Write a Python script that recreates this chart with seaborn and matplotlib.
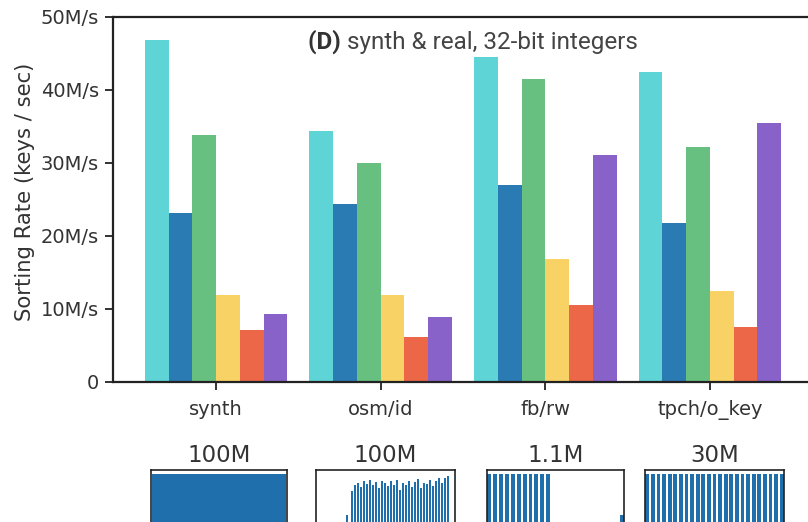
import matplotlib
matplotlib.use("Agg")
import matplotlib.pyplot as plt
import numpy as np
import pandas as pd
import seaborn as sns

# Sorting throughput (million keys / second) per dataset
datasets = ["synth", "osm/id", "fb/rw", "tpch/o_key"]
sorters = ["sorter 1", "sorter 2", "sorter 3", "sorter 4", "sorter 5", "sorter 6"]
rate_s1 = [46.8, 34.4, 44.5, 42.4]
rate_s2 = [23.1, 24.3, 27.0, 21.8]
rate_s3 = [33.8, 30.0, 41.5, 32.2]
rate_s4 = [11.9, 11.9, 16.8, 12.4]
rate_s5 = [7.0, 6.1, 10.5, 7.5]
rate_s6 = [9.2, 8.9, 31.1, 35.5]
palette = ["#5fd4d6", "#2a7ab3", "#67c080", "#f8d264", "#eb6748", "#8861c9"]

y_ticks = [0, 10, 20, 30, 40, 50]
y_tick_labels = ["0", "10M/s", "20M/s", "30M/s", "40M/s", "50M/s"]

# Key counts and key-distribution histograms shown under each dataset
key_counts = ["100M", "100M", "1.1M", "30M"]
hist_synth = [0.95, 0.95, 0.95, 0.95, 0.95, 0.95, 0.95, 0.95, 0.95, 0.95,
              0.95, 0.95, 0.95, 0.95, 0.95, 0.95, 0.95, 0.95, 0.95, 0.95,
              0.95, 0.95, 0.95, 0.95, 0.95, 0.95, 0.95, 0.95, 0.95, 0.95]
hist_osm = [0, 0, 0, 0, 0, 0, 0, 0, 0, 0, 0, 0, 0, 0, 0, 0, 0, 0, 0, 0,
            0.36, 0, 0, 0.70, 0, 0.78, 0, 0.82, 0, 0.76, 0, 0.84, 0, 0.80, 0,
            0.86, 0, 0.78, 0, 0.83, 0, 0.74, 0, 0.85, 0, 0.81, 0, 0.77, 0,
            0.84, 0, 0.79, 0, 0.86, 0, 0.72, 0, 0.82, 0, 0.78, 0, 0.85, 0,
            0.76, 0, 0.83, 0, 0.87, 0, 0.75, 0, 0.82, 0, 0.80, 0, 0.86, 0,
            0.77, 0, 0.84, 0, 0.88, 0, 0.81, 0, 0.89, 0, 0.91, 0, 0, 0, 0]
hist_fb = [0.95, 0, 0.95, 0, 0.95, 0, 0.95, 0, 0.95, 0, 0.95, 0, 0.95, 0,
           0.95, 0, 0.95, 0, 0.95, 0, 0.95, 0, 0, 0, 0, 0, 0, 0, 0, 0, 0, 0,
           0, 0, 0, 0, 0, 0, 0, 0, 0, 0, 0, 0, 0, 0.36]
hist_tpch = [0.95, 0, 0.95, 0, 0.95, 0, 0.95, 0, 0.95, 0, 0.95, 0, 0.95, 0,
             0.95, 0, 0.95, 0, 0.95, 0, 0.95, 0, 0.95, 0, 0.95, 0, 0.95, 0,
             0.95, 0, 0.95, 0, 0.95, 0, 0.95, 0, 0.95, 0, 0.95, 0, 0.95, 0,
             0.95, 0, 0.95, 0, 0.95, 0, 0.95]
histograms = [hist_synth, hist_osm, hist_fb, hist_tpch]
hist_bar_width = [1.0, 1.1, 1.35, 1.35]

rows = []
for name, vals in zip(sorters, [rate_s1, rate_s2, rate_s3, rate_s4, rate_s5, rate_s6]):
    for ds, v in zip(datasets, vals):
        rows.append({"dataset": ds, "sorter": name, "rate": v})
df = pd.DataFrame(rows)

sns.set_theme(style="white")
plt.rcParams["font.family"] = ["DejaVu Sans"]

W, H = 808, 522
fig = plt.figure(figsize=(W / 100, H / 100), dpi=100)
ax = fig.add_axes([113 / W, (H - 381.5) / H, 700 / W, 364.5 / H])

sns.barplot(data=df, x="dataset", y="rate", hue="sorter", order=datasets,
            hue_order=sorters, palette=palette, width=0.865, saturation=1,
            linewidth=0, legend=False, ax=ax)

ax.set_xlim(-0.626, 3.626)
ax.set_ylim(0, 50)
ax.set_yticks(y_ticks)
ax.set_yticklabels(y_tick_labels)
ax.set_xlabel("")
ax.set_ylabel("Sorting Rate (keys / sec)", fontsize=15.2, color="#333333")
ax.yaxis.set_label_coords(-0.112, 0.52)
ax.tick_params(axis="both", which="major", direction="out", length=6, width=1.3,
               colors="#222222", labelsize=14, labelcolor="#333333", bottom=True, left=True)
ax.tick_params(axis="x", pad=7)
ax.tick_params(axis="y", pad=4)
for side in ["left", "bottom", "top"]:
    ax.spines[side].set_color("#222222")
    ax.spines[side].set_linewidth(1.6)
ax.spines["right"].set_visible(False)

# Title with bold panel letter
fig.canvas.draw()
renderer = fig.canvas.get_renderer()
t1 = ax.text(0.0, 0.0, "(D) ", fontsize=17.5, fontweight="bold", color="#333333",
             family="Roboto", transform=None)
t2 = ax.text(0.0, 0.0, "synth & real, 32-bit integers", fontsize=17.5, color="#444444",
             family="Roboto", transform=None)
w1 = t1.get_window_extent(renderer).width
w2 = t2.get_window_extent(renderer).width
x_start = 473 - (w1 + w2) / 2
y_base = H - 49
t1.set_position((x_start, y_base))
t2.set_position((x_start + w1, y_base))

# Key-distribution insets
inset_x = [151, 316, 487, 645]
inset_w = [136, 139, 137, 139]
inset_top = 470
inset_h = 70
for i, hist in enumerate(histograms):
    iax = fig.add_axes([inset_x[i] / W, (H - inset_top - inset_h) / H,
                        inset_w[i] / W, inset_h / H])
    xs = np.arange(len(hist))
    iax.bar(xs, hist, width=hist_bar_width[i], color="#1f6fad", linewidth=0)
    iax.set_xlim(-0.8, len(hist) - 0.2)
    iax.set_ylim(0, 1.0)
    iax.set_xticks([])
    iax.set_yticks([])
    for sp in iax.spines.values():
        sp.set_color("#222222")
        sp.set_linewidth(1.2)
        sp.set_visible(True)
    iax.set_title(key_counts[i], fontsize=16.5, color="#333333", pad=6)

fig.savefig("out.png", dpi=100)
